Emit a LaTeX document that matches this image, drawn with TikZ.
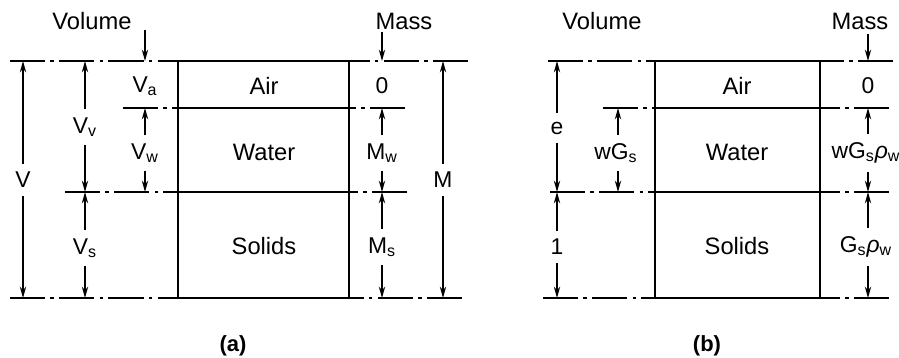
\documentclass[tikz,border=0pt]{standalone}
\usepackage{fontspec}
\setmainfont{Liberation Sans}
\usetikzlibrary{arrows.meta}
\newcommand{\ssub}[1]{\textsubscript{#1}}
\tikzset{
    level/.style = {dash pattern=on 20pt off 3pt on 2pt off 3pt, line width=0.9pt},
    phase/.style = {line width=1.6pt},
    dim/.style = {->, line width=0.8pt},
    dimlabel/.style = {inner xsep=1pt, inner ysep=4.5pt, font=\fontsize{13}{15}\selectfont},
    title/.style = {font=\fontsize{13.5}{15}\selectfont},
    figcap/.style = {font=\bfseries\fontsize{12.5}{14}\selectfont}
}
\begin{document}
\begin{tikzpicture}
    [>={Stealth[length=6.5pt,width=3.6pt]}, x=0.02cm, y=-0.02cm]
    \useasboundingbox (0,0) rectangle (899,358);

    % levels of the phase boundaries
    \coordinate (t) at (0,61);
    \coordinate (aw) at (0,108);
    \coordinate (ws) at (0,192);
    \coordinate (bt) at (0,298);

    % (a) phase diagram
    \coordinate (a-nw) at (178,61);
    \coordinate (a-se) at (349,298);
    \draw[phase] (a-nw) rectangle (a-se);
    \draw[phase] (a-nw |- aw) -- (a-se |- aw);
    \draw[phase] (a-nw |- ws) -- (a-se |- ws);
    \node[title] (a-air) at (264,86) {Air};
    \node[title] (a-water) at (264,152) {Water};
    \node[title] (a-solids) at (264,246) {Solids};

    \draw[level] (10,61) -- (a-nw);
    \draw[level] (468,61) -- (a-se |- t);
    \draw[level] (123,108) -- (a-nw |- aw);
    \draw[level] (405,108) -- (a-se |- aw);
    \draw[level] (65,192) -- (a-nw |- ws);
    \draw[level] (407,192) -- (a-se |- ws);
    \draw[level] (10,298) -- (a-nw |- bt);
    \draw[level] (462,298) -- (a-se);

    \node[title] (a-vol) at (92,21) {Volume};
    \node[title] (a-mass) at (404,21) {Mass};

    \node[dimlabel] (V) at (23,180) {V};
    \draw[dim] (V) -- (V |- t);
    \draw[dim] (V) -- (V |- bt);
    \node[dimlabel] (Vv) at (85,127) {V\ssub{v}};
    \draw[dim] (Vv) -- (Vv |- t);
    \draw[dim] (Vv) -- (Vv |- ws);
    \node[dimlabel] (Vs) at (85,248) {V\ssub{s}};
    \draw[dim] (Vs) -- (Vs |- ws);
    \draw[dim] (Vs) -- (Vs |- bt);
    \node[dimlabel] (Va) at (145,86) {V\ssub{a}};
    \coordinate (Va-in) at (145,30);
    \draw[dim] (Va-in) -- (Va-in |- t);
    \node[dimlabel] (Vw) at (145,153) {V\ssub{w}};
    \draw[dim] (Vw) -- (Vw |- aw);
    \draw[dim] (Vw) -- (Vw |- ws);

    \node[dimlabel] (Ma) at (382,86) {0};
    \coordinate (Ma-in) at (382,32);
    \draw[dim] (Ma-in) -- (Ma-in |- t);
    \node[dimlabel] (Mw) at (382,153) {M\ssub{w}};
    \draw[dim] (Mw) -- (Mw |- aw);
    \draw[dim] (Mw) -- (Mw |- ws);
    \node[dimlabel] (Ms) at (382,247) {M\ssub{s}};
    \draw[dim] (Ms) -- (Ms |- ws);
    \draw[dim] (Ms) -- (Ms |- bt);
    \node[dimlabel] (M) at (443,180) {M};
    \draw[dim] (M) -- (M |- t);
    \draw[dim] (M) -- (M |- bt);

    \node[figcap] (a-cap) at (233,346) {(a)};

    % (b) phase diagram for unit volume of solids
    \coordinate (b-nw) at (655,61);
    \coordinate (b-se) at (820,298);
    \draw[phase] (b-nw) rectangle (b-se);
    \draw[phase] (b-nw |- aw) -- (b-se |- aw);
    \draw[phase] (b-nw |- ws) -- (b-se |- ws);
    \node[title] (b-air) at (737,86) {Air};
    \node[title] (b-water) at (737,152) {Water};
    \node[title] (b-solids) at (737,246) {Solids};

    \draw[level] (548,61) -- (b-nw);
    \draw[level] (893,61) -- (b-se |- t);
    \draw[level] (603,108) -- (b-nw |- aw);
    \draw[level] (889,108) -- (b-se |- aw);
    \draw[level] (550,192) -- (b-nw |- ws);
    \draw[level] (889,192) -- (b-se |- ws);
    \draw[level] (543,298) -- (b-nw |- bt);
    \draw[level] (889,298) -- (b-se);

    \node[title] (b-vol) at (602,21) {Volume};
    \node[title] (b-mass) at (860,21) {Mass};

    \node[dimlabel] (e) at (557,128) {e};
    \draw[dim] (e) -- (e |- t);
    \draw[dim] (e) -- (e |- ws);
    \node[dimlabel] (one) at (557,247) {1};
    \draw[dim] (one) -- (one |- ws);
    \draw[dim] (one) -- (one |- bt);
    \node[dimlabel] (wGs) at (616,153) {wG\ssub{s}};
    \draw[dim] (wGs.north -| 618,0) -- (618,108);
    \draw[dim] (wGs.south -| 618,0) -- (618,192);

    \node[dimlabel] (b-Ma) at (868,86) {0};
    \coordinate (b-Ma-in) at (868,34);
    \draw[dim] (b-Ma-in) -- (b-Ma-in |- t);
    \node[dimlabel] (b-Mw) at (866,153) {wG\ssub{s}\textit{ρ}\ssub{w}};
    \draw[dim] (b-Mw.north -| 868,0) -- (868,108);
    \draw[dim] (b-Mw.south -| 868,0) -- (868,192);
    \node[dimlabel] (b-Ms) at (866,247) {G\ssub{s}\textit{ρ}\ssub{w}};
    \draw[dim] (b-Ms.north -| 868,0) -- (868,192);
    \draw[dim] (b-Ms.south -| 868,0) -- (868,298);

    \node[figcap] (b-cap) at (707,346) {(b)};
\end{tikzpicture}
\end{document}
